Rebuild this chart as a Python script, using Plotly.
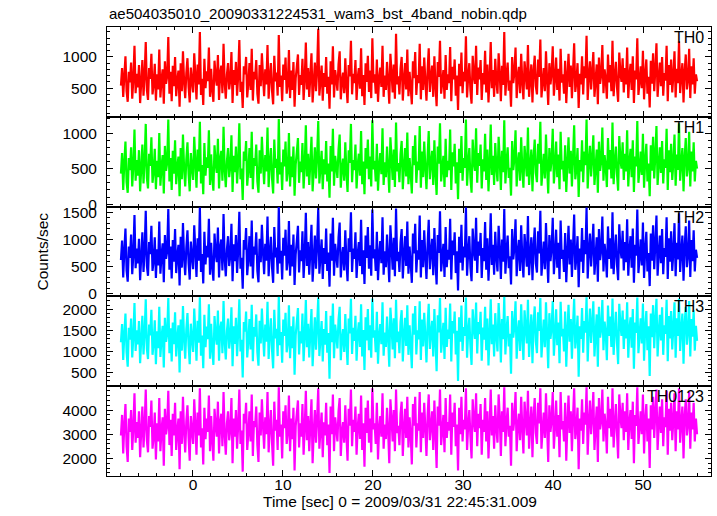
import numpy as np
import plotly.graph_objects as go
from plotly.subplots import make_subplots

title_text = "ae504035010_20090331224531_wam3_bst_4band_nobin.qdp"
x_title = "Time [sec] 0 = 2009/03/31 22:45:31.009"
y_title = "Counts/sec"
band_names = ["TH0", "TH1", "TH2", "TH3", "TH0123"]
band_colors = ["#ff0000", "#00ff00", "#0000ff", "#00ffff", "#ff00ff"]

t_start = -8.0
t_stop = 56.0

th0 = [
    540, 820, 360, 690, 1010, 450, 280, 760, 590, 910, 330, 640, 1180, 420, 730, 510, 870, 260, 600, 950, 380, 700, 1240, 470, 310, 820, 650, 1050, 400, 560, 890, 300,
    720, 480, 1120, 350, 640, 800, 250, 930, 570, 690, 1320, 410, 760, 290, 860, 530, 1000, 370, 620, 780, 200, 900, 450, 1090, 600, 340, 740, 980, 520, 270, 830, 610,
    430, 1060, 700, 320, 880, 560, 1400, 390, 650, 230, 970, 500, 770, 610, 1150, 360, 810, 470, 280, 940, 680, 540, 1030, 310, 750, 860, 420, 1210, 590, 330, 720, 900,
    480, 630, 1080, 260, 790, 550, 920, 380, 700, 1270, 440, 600, 180, 850, 720, 1000, 350, 580, 900, 470, 1130, 300, 760, 640, 950, 410, 250, 870, 530, 1060, 690, 370,
    800, 560, 1190, 330, 680, 900, 460, 240, 1020, 610, 750, 380, 1350, 520, 700, 290, 880, 630, 990, 410, 560, 1110, 340, 780, 470, 920, 200, 660, 840, 1040, 390, 710,
    550, 970, 310, 640, 1230, 480, 820, 360, 700, 1060, 270, 590, 910, 450, 780, 1450, 380, 620, 860, 300, 740, 520, 1000, 410, 680, 170, 930, 560, 1170, 350, 790, 640,
    460, 880, 1090, 320, 600, 750, 420, 980, 540, 260, 870, 690, 1260, 400, 730, 580, 950, 310, 660, 820, 490, 1140, 370, 710, 230, 900, 600, 1020, 440, 780, 340, 1300,
    590, 720, 410, 960, 280, 650, 830, 520, 1180, 360, 700, 470, 920, 610, 250, 1050, 750, 430, 880, 330, 1370, 560, 690, 400, 810, 1000, 300, 640, 900, 480, 1120, 370,
    760, 520, 240, 930, 660, 1080, 390, 710, 580, 1210, 320, 850, 470, 990, 620, 300, 780, 1140, 440, 690, 860, 360, 1010, 540, 210, 920, 680, 1260, 410, 600, 790, 330,
    1030, 470, 720, 580, 1160, 290, 840, 640, 960, 380, 700, 150, 890, 530, 1070, 420, 760, 610, 1330, 350, 680, 900, 460, 250, 1020, 700, 570, 1180, 390, 830, 640, 950,
    310, 740, 560, 1100, 430, 880, 270, 670, 1240, 500, 790, 360, 970, 620, 410, 1060, 730, 290, 860, 550, 1400, 380, 700, 910, 460, 620, 200, 1000, 580, 750, 1150, 340,
    690, 840, 420, 1050, 600, 320, 930, 710, 480, 1190, 360, 640, 880, 270, 770, 1020, 530, 400, 960, 680, 1280, 350, 590, 820, 450, 1090, 630, 230, 900, 560, 740, 1170,
    380, 650, 990, 470, 810, 300, 1130, 590, 720, 410, 940, 260, 680, 1050, 520, 860, 340, 770, 1220, 440, 610, 900, 180, 730, 560, 1010, 400, 850, 660, 1340, 310, 700,
    930, 480, 760, 1080, 360, 620, 880, 240, 990, 570, 710, 1190, 420, 800, 640, 330, 1040, 590, 870, 450, 1260, 370, 690, 920, 510, 280, 1070, 740, 600, 980, 430, 820,
    560, 1150, 340, 700, 890, 470, 1010, 260, 780, 640, 1300, 390, 600, 850, 500, 1100, 320, 720, 960, 410, 680, 190, 940, 570, 1060, 450, 800, 1220, 360, 660, 910, 530,
    1000, 380, 740, 620, 1180, 290, 870, 550, 960, 430, 700, 1090, 350, 810, 580, 1250, 420, 690, 900, 270, 760, 1040, 480, 630, 1130, 340, 850, 560, 980, 410, 720, 610,
]

th1 = [
    430, 720, 200, 590, 880, 310, 160, 650, 480, 800, 250, 540, 1050, 330, 620, 400, 760, 180, 510, 840, 290, 600, 1130, 370, 220, 710, 540, 940, 300, 460, 780, 210,
    610, 380, 1000, 260, 530, 690, 150, 820, 470, 580, 1190, 320, 650, 200, 750, 430, 900, 280, 520, 670, 110, 790, 350, 980, 500, 250, 630, 870, 420, 180, 720, 510,
    340, 950, 590, 230, 770, 460, 1160, 290, 550, 140, 860, 400, 660, 510, 1040, 270, 700, 370, 190, 830, 570, 440, 920, 220, 640, 750, 330, 1090, 490, 240, 610, 790,
    380, 530, 970, 170, 680, 450, 810, 290, 590, 1140, 350, 500, 60, 740, 610, 890, 260, 480, 790, 370, 1020, 210, 650, 540, 840, 320, 160, 760, 430, 950, 580, 280,
    690, 460, 1080, 240, 570, 790, 370, 150, 910, 510, 640, 290, 1200, 420, 590, 200, 770, 530, 880, 320, 460, 1000, 250, 670, 380, 810, 120, 560, 730, 930, 300, 600,
    450, 860, 220, 540, 1110, 390, 710, 270, 590, 950, 180, 490, 800, 360, 670, 1170, 290, 520, 750, 210, 630, 420, 890, 320, 570, 90, 820, 460, 1060, 260, 680, 540,
    370, 770, 980, 230, 500, 640, 330, 870, 440, 170, 760, 580, 1130, 310, 620, 480, 840, 220, 550, 710, 400, 1030, 280, 600, 140, 790, 500, 910, 350, 670, 250, 1180,
    490, 610, 320, 850, 190, 540, 720, 420, 1070, 270, 590, 380, 810, 510, 160, 940, 640, 340, 770, 240, 1150, 460, 580, 310, 700, 890, 210, 530, 790, 390, 1010, 280,
    650, 430, 150, 820, 550, 970, 300, 600, 480, 1100, 230, 740, 380, 880, 520, 210, 670, 1030, 350, 580, 750, 270, 900, 440, 130, 810, 570, 1140, 320, 500, 680, 240,
    920, 380, 610, 480, 1050, 200, 730, 530, 850, 290, 590, 70, 780, 440, 960, 330, 650, 510, 1190, 260, 570, 790, 370, 160, 910, 590, 470, 1070, 300, 720, 540, 840,
    220, 630, 460, 990, 340, 770, 180, 560, 1120, 410, 680, 270, 860, 520, 320, 950, 620, 200, 750, 450, 1180, 290, 590, 800, 370, 510, 120, 890, 480, 640, 1040, 250,
    580, 730, 330, 940, 500, 230, 820, 600, 390, 1080, 270, 530, 770, 180, 660, 910, 440, 310, 850, 570, 1160, 260, 480, 710, 360, 980, 520, 150, 790, 460, 630, 1060,
    290, 540, 880, 380, 700, 210, 1020, 490, 610, 320, 830, 170, 570, 940, 430, 750, 250, 660, 1110, 350, 500, 790, 100, 620, 460, 900, 310, 740, 550, 1190, 220, 590,
    820, 390, 650, 970, 270, 510, 770, 160, 880, 470, 600, 1080, 330, 690, 530, 240, 930, 490, 760, 360, 1150, 280, 580, 810, 420, 190, 960, 630, 500, 870, 340, 710,
    460, 1040, 250, 590, 780, 380, 900, 170, 670, 530, 1170, 300, 490, 740, 410, 990, 230, 610, 850, 320, 570, 110, 830, 470, 950, 360, 690, 1100, 270, 550, 800, 440,
    890, 290, 630, 510, 1060, 200, 760, 450, 850, 340, 590, 980, 260, 700, 480, 1140, 330, 580, 790, 180, 650, 930, 390, 520, 1020, 250, 740, 460, 870, 320, 610, 500,
]

th2 = [
    620, 980, 300, 790, 1200, 430, 220, 870, 660, 1090, 360, 720, 1450, 470, 830, 560, 1010, 250, 680, 1130, 400, 780, 1530, 510, 330, 950, 730, 1250, 420, 610, 1040, 290,
    820, 520, 1330, 370, 710, 930, 210, 1080, 640, 780, 1560, 440, 870, 280, 990, 590, 1190, 380, 700, 900, 150, 1050, 480, 1300, 660, 340, 850, 1170, 560, 260, 960, 680,
    450, 1260, 790, 310, 1020, 610, 1590, 400, 730, 190, 1140, 540, 880, 670, 1380, 350, 940, 500, 240, 1110, 760, 580, 1220, 300, 860, 1000, 430, 1470, 640, 320, 820, 1060,
    510, 700, 1290, 230, 910, 600, 1080, 380, 800, 1510, 460, 660, 90, 990, 810, 1210, 340, 640, 1060, 500, 1350, 280, 870, 720, 1130, 420, 210, 1010, 580, 1270, 770, 360,
    920, 610, 1420, 320, 750, 1050, 490, 200, 1230, 670, 850, 370, 1600, 560, 790, 260, 1030, 700, 1180, 430, 610, 1340, 330, 900, 500, 1090, 160, 730, 970, 1250, 390, 800,
    600, 1150, 290, 710, 1490, 510, 950, 350, 780, 1270, 220, 640, 1070, 460, 900, 1580, 370, 690, 1000, 270, 840, 550, 1200, 420, 760, 130, 1110, 610, 1400, 330, 920, 710,
    480, 1040, 1310, 300, 660, 860, 430, 1170, 590, 230, 1020, 770, 1500, 400, 830, 640, 1130, 290, 730, 950, 510, 1360, 360, 800, 180, 1070, 660, 1230, 460, 890, 330, 1550,
    650, 820, 420, 1140, 250, 720, 970, 560, 1410, 350, 780, 490, 1090, 670, 210, 1260, 860, 440, 1030, 320, 1570, 600, 770, 400, 940, 1190, 280, 710, 1060, 510, 1330, 370,
    870, 560, 200, 1110, 740, 1290, 390, 800, 630, 1440, 300, 990, 490, 1170, 680, 270, 900, 1360, 450, 770, 1010, 340, 1210, 590, 170, 1080, 750, 1520, 410, 660, 920, 310,
    1230, 490, 810, 630, 1380, 260, 980, 710, 1130, 380, 780, 60, 1050, 570, 1270, 430, 870, 670, 1590, 330, 760, 1060, 480, 230, 1200, 790, 610, 1400, 380, 960, 700, 1120,
    290, 840, 600, 1320, 440, 1020, 240, 740, 1480, 530, 900, 350, 1140, 680, 410, 1250, 820, 270, 1000, 590, 1560, 370, 780, 1070, 470, 690, 170, 1190, 630, 850, 1370, 320,
    770, 990, 420, 1260, 650, 300, 1100, 800, 500, 1430, 340, 700, 1040, 250, 880, 1220, 560, 390, 1150, 740, 1530, 330, 640, 960, 450, 1300, 690, 200, 1080, 600, 840, 1400,
    360, 720, 1180, 480, 940, 270, 1350, 640, 810, 400, 1120, 210, 750, 1250, 540, 1000, 310, 870, 1460, 440, 670, 1060, 120, 830, 590, 1210, 380, 990, 730, 1590, 280, 790,
    1110, 500, 860, 1290, 350, 680, 1040, 220, 1190, 620, 800, 1420, 410, 920, 700, 300, 1240, 640, 1020, 460, 1500, 360, 770, 1090, 530, 250, 1280, 830, 650, 1160, 430, 950,
    580, 1370, 330, 790, 1060, 480, 1200, 200, 900, 700, 1550, 380, 660, 1000, 520, 1310, 290, 810, 1140, 410, 750, 140, 1110, 610, 1260, 450, 920, 1440, 330, 730, 1070, 560,
    1190, 360, 840, 680, 1410, 270, 1020, 590, 1150, 420, 780, 1300, 320, 940, 630, 1480, 400, 760, 1070, 240, 860, 1240, 490, 700, 1350, 310, 990, 600, 1170, 410, 810, 660,
]

th3 = [
    1220, 1650, 800, 1410, 1900, 980, 640, 1560, 1280, 1780, 860, 1350, 2150, 1010, 1500, 1170, 1720, 720, 1300, 1850, 930, 1430, 2240, 1060, 820, 1640, 1380, 1990, 920, 1190, 1740, 700,
    1480, 1080, 2060, 870, 1340, 1610, 620, 1800, 1230, 1410, 2270, 960, 1550, 760, 1690, 1170, 1930, 880, 1320, 1620, 500, 1760, 1020, 2080, 1290, 830, 1530, 1910, 1140, 700, 1660, 1300,
    990, 2020, 1440, 780, 1730, 1210, 2290, 900, 1380, 600, 1870, 1100, 1590, 1290, 2120, 830, 1660, 1060, 680, 1840, 1390, 1160, 1970, 780, 1550, 1710, 960, 2200, 1240, 810, 1490, 1780,
    1070, 1330, 2050, 650, 1600, 1180, 1800, 890, 1460, 2240, 1000, 1280, 380, 1700, 1470, 1950, 860, 1250, 1770, 1050, 2110, 770, 1580, 1350, 1880, 980, 660, 1730, 1190, 2020, 1420, 880,
    1640, 1230, 2180, 820, 1400, 1790, 1040, 600, 1990, 1310, 1540, 890, 2300, 1150, 1460, 730, 1760, 1370, 1920, 980, 1200, 2100, 840, 1600, 1080, 1830, 450, 1390, 1700, 2030, 930, 1480,
    1190, 1900, 770, 1360, 2220, 1100, 1660, 860, 1450, 2010, 650, 1270, 1810, 1040, 1620, 2280, 890, 1330, 1720, 760, 1530, 1160, 1960, 970, 1440, 350, 1850, 1220, 2140, 840, 1640, 1380,
    1070, 1760, 2060, 790, 1290, 1530, 990, 1890, 1200, 680, 1780, 1430, 2250, 940, 1560, 1250, 1850, 780, 1410, 1690, 1110, 2120, 880, 1510, 560, 1810, 1260, 2010, 1030, 1620, 850, 2260,
    1330, 1500, 980, 1940, 710, 1380, 1650, 1170, 2170, 900, 1450, 1110, 1830, 1320, 640, 2040, 1600, 1050, 1790, 840, 2230, 1220, 1470, 960, 1700, 1980, 760, 1390, 1800, 1130, 2100, 920,
    1620, 1180, 600, 1900, 1400, 2080, 930, 1500, 1290, 2190, 800, 1760, 1120, 1920, 1370, 740, 1640, 2130, 1060, 1450, 1730, 880, 2010, 1240, 530, 1860, 1450, 2270, 970, 1300, 1680, 820,
    2040, 1110, 1520, 1300, 2140, 760, 1720, 1430, 1950, 930, 1490, 300, 1810, 1230, 2090, 1010, 1580, 1370, 2280, 850, 1470, 1800, 1120, 680, 2000, 1560, 1300, 2160, 950, 1700, 1410, 1940,
    780, 1570, 1280, 2060, 1030, 1780, 670, 1390, 2240, 1170, 1640, 880, 1910, 1380, 1000, 2150, 1610, 740, 1770, 1290, 2300, 930, 1510, 1840, 1120, 1420, 470, 1960, 1330, 1600, 2190, 830,
    1460, 1740, 1010, 2120, 1350, 800, 1980, 1560, 1190, 2230, 870, 1420, 1880, 720, 1650, 2070, 1240, 960, 1930, 1490, 2270, 860, 1330, 1760, 1100, 2170, 1390, 600, 1910, 1300, 1560, 2200,
    900, 1400, 2000, 1150, 1690, 720, 2180, 1360, 1540, 1000, 1950, 640, 1480, 2110, 1230, 1770, 830, 1620, 2250, 1070, 1380, 1850, 400, 1600, 1300, 2030, 970, 1720, 1450, 2290, 760, 1520,
    2020, 1200, 1660, 2190, 880, 1400, 1880, 640, 2060, 1330, 1530, 2220, 1030, 1710, 1450, 790, 2090, 1370, 1830, 1110, 2260, 920, 1480, 1940, 1200, 700, 2130, 1640, 1370, 1970, 1060, 1760,
    1310, 2170, 850, 1520, 1810, 1090, 2010, 590, 1690, 1440, 2280, 960, 1380, 1790, 1190, 2140, 780, 1560, 1960, 1030, 1600, 420, 1900, 1340, 2100, 1080, 1740, 2250, 880, 1450, 1870, 1260,
    2050, 920, 1620, 1420, 2230, 770, 1840, 1310, 1960, 1050, 1580, 2170, 850, 1790, 1370, 2260, 1010, 1530, 1900, 710, 1660, 2060, 1160, 1480, 2200, 880, 1770, 1350, 1980, 1020, 1610, 1250,
]

th0123 = [
    2950, 3800, 2200, 3400, 4250, 2500, 1850, 3650, 3100, 4000, 2350, 3250, 4700, 2650, 3500, 2850, 3950, 2050, 3150, 4150, 2450, 3350, 4850, 2750, 2250, 3750, 3300, 4400, 2400, 2900, 3900, 1950,
    3450, 2700, 4500, 2300, 3200, 3700, 1700, 4050, 3000, 3350, 4800, 2550, 3600, 2100, 3850, 2950, 4300, 2350, 3150, 3650, 1550, 3950, 2600, 4550, 3100, 2250, 3550, 4200, 2850, 1900, 3750, 3150,
    2600, 4450, 3400, 2150, 3900, 2950, 4900, 2450, 3250, 1750, 4100, 2800, 3650, 3100, 4600, 2300, 3750, 2750, 1900, 4050, 3350, 2900, 4350, 2200, 3500, 3850, 2500, 4750, 3000, 2150, 3450, 3950,
    2750, 3200, 4500, 1800, 3650, 2900, 4000, 2400, 3400, 4850, 2600, 3150, 1450, 3850, 3450, 4300, 2350, 3050, 3950, 2700, 4650, 2100, 3550, 3300, 4150, 2550, 1850, 3900, 2950, 4450, 3350, 2400,
    3700, 3000, 4750, 2250, 3300, 4000, 2650, 1700, 4350, 3150, 3600, 2350, 4950, 2900, 3400, 2000, 3950, 3250, 4200, 2600, 3050, 4600, 2300, 3650, 2800, 4100, 1500, 3350, 3850, 4400, 2450, 3450,
    2900, 4250, 2150, 3250, 4800, 2750, 3750, 2300, 3400, 4450, 1800, 3100, 4000, 2650, 3650, 4900, 2400, 3200, 3900, 2050, 3500, 2950, 4300, 2550, 3400, 1400, 4150, 3000, 4650, 2300, 3700, 3250,
    2700, 3950, 4500, 2100, 3100, 3500, 2650, 4200, 2950, 1900, 4050, 3350, 4850, 2500, 3600, 3100, 4150, 2150, 3300, 3850, 2800, 4600, 2350, 3450, 1650, 4100, 3050, 4400, 2650, 3650, 2250, 4900,
    3200, 3450, 2600, 4300, 1950, 3250, 3750, 2900, 4700, 2400, 3400, 2800, 4100, 3150, 1800, 4450, 3650, 2700, 4000, 2300, 4850, 3050, 3350, 2550, 3850, 4350, 2100, 3250, 4050, 2850, 4550, 2450,
    3700, 3000, 1750, 4250, 3350, 4550, 2450, 3450, 3150, 4750, 2250, 3900, 2850, 4300, 3250, 2100, 3750, 4650, 2750, 3350, 3950, 2350, 4400, 3050, 1600, 4150, 3350, 4850, 2550, 3150, 3800, 2250,
    4500, 2850, 3500, 3150, 4650, 2150, 3900, 3300, 4300, 2500, 3400, 1500, 4100, 3000, 4550, 2700, 3600, 3200, 4900, 2350, 3400, 4000, 2900, 2000, 4450, 3550, 3100, 4700, 2500, 3850, 3250, 4250,
    2150, 3600, 3100, 4500, 2700, 3950, 2000, 3300, 4850, 2950, 3750, 2400, 4200, 3250, 2650, 4650, 3700, 2100, 3950, 3100, 4950, 2500, 3450, 4100, 2900, 3350, 1700, 4300, 3150, 3650, 4750, 2300,
    3350, 3850, 2750, 4550, 3250, 2200, 4350, 3600, 2950, 4800, 2400, 3350, 4150, 2050, 3750, 4500, 3050, 2600, 4300, 3450, 4900, 2400, 3200, 3900, 2850, 4700, 3300, 1850, 4200, 3100, 3600, 4750,
    2400, 3300, 4400, 2900, 3800, 2050, 4750, 3200, 3550, 2700, 4300, 1900, 3450, 4600, 3050, 3950, 2300, 3700, 4900, 2800, 3250, 4100, 1550, 3650, 3150, 4450, 2600, 3900, 3400, 4950, 2150, 3500,
    4400, 3000, 3750, 4750, 2350, 3300, 4150, 1850, 4500, 3200, 3550, 4850, 2700, 3850, 3350, 2200, 4550, 3250, 4050, 2900, 4900, 2450, 3400, 4250, 3050, 2000, 4650, 3750, 3250, 4300, 2750, 3950,
    3100, 4700, 2350, 3500, 4000, 2800, 4350, 1800, 3800, 3350, 4950, 2600, 3250, 3950, 3000, 4650, 2200, 3600, 4250, 2700, 3650, 1600, 4200, 3200, 4550, 2850, 3900, 4850, 2350, 3350, 4150, 3050,
    4450, 2500, 3700, 3300, 4800, 2150, 4050, 3150, 4300, 2750, 3600, 4700, 2300, 3950, 3200, 4900, 2650, 3500, 4150, 2000, 3750, 4450, 2950, 3400, 4750, 2400, 3900, 3200, 4300, 2700, 3650, 3000,
]

series = [th0, th1, th2, th3, th0123]
y_ranges = [[40, 1480], [-35, 1230], [-50, 1605], [175, 2308], [1270, 4990]]
y_ticks = [[500, 1000], [0, 500, 1000], [0, 500, 1000, 1500], [500, 1000, 1500, 2000], [2000, 3000, 4000]]
y_minor = [100, 100, 100, 100, 200]

time = np.linspace(t_start, t_stop, len(th0))

FONT = "Liberation Sans, Arial, Helvetica, sans-serif"

fig = make_subplots(rows=5, cols=1, shared_xaxes=True, vertical_spacing=0)

for i, (vals, name, col) in enumerate(zip(series, band_names, band_colors)):
    fig.add_trace(
        go.Scatter(x=time, y=vals, mode="lines",
                   line=dict(color=col, width=2.2, simplify=False),
                   name=name, showlegend=False, hoverinfo="skip"),
        row=i + 1, col=1,
    )
    fig.update_yaxes(
        range=y_ranges[i], tickvals=y_ticks[i], ticks="inside", ticklen=6,
        tickcolor="black", showline=True, mirror="allticks", linecolor="black",
        linewidth=1, showgrid=False, zeroline=False, automargin=False,
        minor=dict(dtick=y_minor[i], tick0=0, ticks="inside", ticklen=3, tickcolor="black", showgrid=False),
        tickfont=dict(family=FONT, size=15.5, color="black"),
        ticklabelstandoff=6,
        row=i + 1, col=1,
    )
    fig.update_xaxes(
        range=[-9.55, 57.55], dtick=10, tick0=0, ticks="inside", ticklen=6,
        tickcolor="black", showline=True, mirror="allticks", linecolor="black",
        linewidth=1, showgrid=False, zeroline=False, automargin=False,
        minor=dict(dtick=2, tick0=0, ticks="inside", ticklen=3, tickcolor="black", showgrid=False),
        tickfont=dict(family=FONT, size=15.5, color="black"),
        showticklabels=(i == 4), ticklabelstandoff=-6,
        row=i + 1, col=1,
    )
    ydom = fig.layout[f"yaxis{'' if i == 0 else i + 1}"].domain
    fig.add_annotation(
        text=name, xref="paper", yref="paper", x=0.992, y=ydom[1],
        xanchor="right", yanchor="top", showarrow=False, yshift=0,
        font=dict(family=FONT, size=16, color="black"),
    )

fig.add_annotation(
    text=title_text, xref="paper", yref="paper", x=0, y=1, xanchor="left",
    yanchor="bottom", yshift=3, showarrow=False,
    font=dict(family=FONT, size=15, color="black"),
)
fig.add_annotation(
    text=x_title, xref="paper", yref="paper", x=0.485, y=0, xanchor="center",
    yanchor="top", yshift=-15, showarrow=False,
    font=dict(family=FONT, size=15.5, color="black"),
)
fig.add_annotation(
    text=y_title, xref="paper", yref="paper", x=-0.106, y=0.5, xanchor="center",
    yanchor="middle", textangle=-90, showarrow=False,
    font=dict(family=FONT, size=15.5, color="black"),
)

fig.update_layout(
    width=717, height=516,
    margin=dict(l=107, r=6, t=27, b=40, autoexpand=False),
    paper_bgcolor="white", plot_bgcolor="white",
    font=dict(family=FONT, size=15.5, color="black"),
)

fig.write_html("out.html", config={"displayModeBar": False},
               post_script="document.body.style.margin='0px';")
